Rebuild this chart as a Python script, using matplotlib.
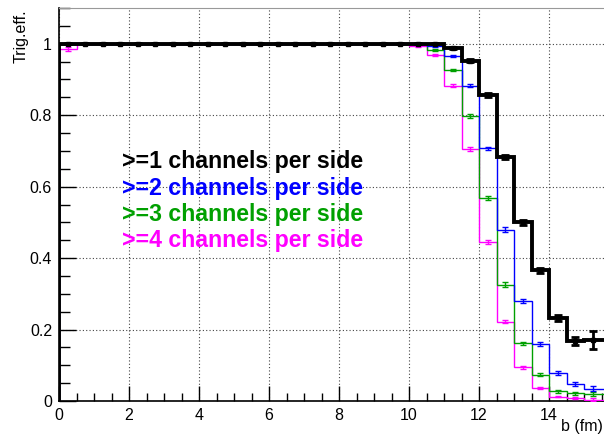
import numpy as np
import matplotlib.pyplot as plt
from matplotlib.ticker import MultipleLocator

plt.rcParams['font.family'] = ['Liberation Sans', 'DejaVu Sans']

# bin edges in b (fm), width 0.5
edges = np.arange(0, 16.5, 0.5)

eff_1 = [1.0] * 22 + [0.988, 0.953, 0.857, 0.683, 0.500, 0.366, 0.233, 0.168, 0.170, 0.170]
err_1 = [0.002] * 22 + [0.003, 0.004, 0.005, 0.006, 0.006, 0.007, 0.009, 0.012, 0.025, 0.03]

eff_2 = [1.0] * 21 + [0.994, 0.966, 0.883, 0.707, 0.480, 0.280, 0.159, 0.079, 0.048, 0.034, 0.033]
err_2 = [0.002] * 21 + [0.003, 0.003, 0.004, 0.005, 0.006, 0.006, 0.006, 0.006, 0.006, 0.007, 0.008]

eff_3 = [1.0] * 21 + [0.982, 0.927, 0.798, 0.568, 0.326, 0.161, 0.074, 0.027, 0.021, 0.019, 0.019]
err_3 = [0.002] * 21 + [0.003, 0.003, 0.005, 0.006, 0.006, 0.005, 0.005, 0.004, 0.004, 0.005, 0.005]

eff_4 = [0.985] + [1.0] * 19 + [0.994, 0.968, 0.883, 0.706, 0.445, 0.222, 0.094, 0.036, 0.012, 0.008, 0.004, 0.003]
err_4 = [0.006] + [0.002] * 19 + [0.003, 0.003, 0.004, 0.005, 0.006, 0.005, 0.004, 0.003, 0.002, 0.003, 0.003, 0.003]

labels = ['>=1 channels per side', '>=2 channels per side',
          '>=3 channels per side', '>=4 channels per side']
colors = ['black', '#0000ff', '#00a000', '#ff00ff']

fig = plt.figure(figsize=(6.04, 4.38), dpi=100)
ax = fig.add_axes([59 / 604, 1 - 401 / 438, 1 - 59 / 604, 393 / 438])

centers = 0.5 * (edges[:-1] + edges[1:])
series = [(eff_4, err_4, colors[3]), (eff_3, err_3, colors[2]),
          (eff_2, err_2, colors[1])]
for eff, err, c in series:
    ax.stairs(eff, edges, color=c, lw=1.0, zorder=3)
    ax.errorbar(centers, eff, yerr=err, fmt='none', ecolor=c, elinewidth=1,
                capsize=2, capthick=1, zorder=3)

ax.stairs(eff_1, edges, color='black', lw=2.8, zorder=4)
ax.errorbar(centers, eff_1, yerr=err_1, fmt='s', color='black', ms=3.5,
            elinewidth=2, capsize=3, capthick=2, zorder=5)

ax.set_xlim(0, (604 - 59) / 35)
ax.set_ylim(0, 1.1)

ax.xaxis.set_major_locator(MultipleLocator(2))
ax.xaxis.set_minor_locator(MultipleLocator(0.5))
ax.yaxis.set_major_locator(MultipleLocator(0.2))
ax.yaxis.set_minor_locator(MultipleLocator(0.05))
ax.set_yticks([0, 0.2, 0.4, 0.6, 0.8, 1.0])
ax.set_yticklabels(['0', '0.2', '0.4', '0.6', '0.8', '1'])
ax.tick_params(axis='x', which='major', direction='in', length=11, width=1,
               labelsize=11.5, pad=5)
ax.tick_params(axis='x', which='minor', direction='in', length=6, width=1)
ax.tick_params(axis='y', which='major', direction='in', length=12, width=1,
               labelsize=11.5, pad=5)
ax.tick_params(axis='y', which='minor', direction='in', length=8, width=1)
ax.tick_params(top=False, right=False)

ax.grid(True, which='major', ls=(0, (1, 2)), color='#444444', lw=0.8)
ax.set_axisbelow(True)

ax.spines['right'].set_visible(False)
ax.spines['top'].set_color('#999999')
ax.spines['left'].set_linewidth(1.2)
ax.spines['bottom'].set_linewidth(1.2)

fig.text(603 / 604, 1 - 426 / 438, 'b (fm)', ha='right', va='center', fontsize=11.5)
fig.text(21 / 604, 1 - 9 / 438, 'Trig.eff.', ha='center', va='top',
         rotation=90, fontsize=11.5)

for i, (lab, c) in enumerate(zip(labels, colors)):
    ax.text(1.8, 0.67 - i * 0.074, lab, color=c, fontsize=16.7,
            fontweight='bold', va='center', ha='left')

fig.savefig('out.png', dpi=100)
